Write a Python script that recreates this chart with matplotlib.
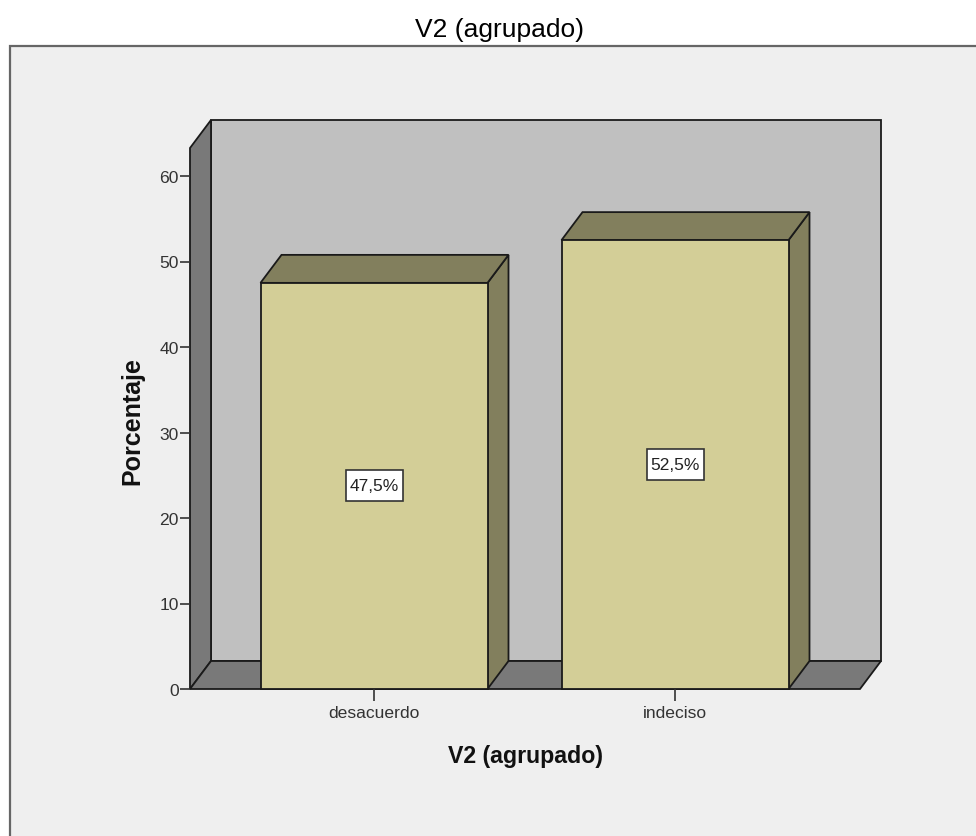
import matplotlib
matplotlib.use('Agg')
import matplotlib.pyplot as plt
from matplotlib.patches import Polygon, Rectangle

plt.rcParams['font.family'] = ['Liberation Sans', 'DejaVu Sans']

categories = ['desacuerdo', 'indeciso']
values = [47.5, 52.5]
value_labels = ['47,5%', '52,5%']
yticks = [0, 10, 20, 30, 40, 50, 60]
title = 'V2 (agrupado)'
xlabel = 'V2 (agrupado)'
ylabel = 'Porcentaje'

W, H = 976, 837
# plot box in pixels of the picture
left, right, base, top = 190, 860, 690, 149
dx_px, dy_px = 21, 28
px_per_unit_x = 301.0
px_per_unit_y = 8.55

PANEL = '#efefef'
WALL = '#c0c0c0'
SIDE = '#797979'
FRONT = '#d3ce97'
DARK = '#827f5d'
EDGE = '#1a1a1a'

fig = plt.figure(figsize=(W / 100, H / 100), dpi=100, facecolor='white')

# panel behind the chart, runs off the right and bottom of the picture
fig.add_artist(Rectangle((10 / W, -0.05), 1.0, 1.05 - 47 / H, transform=fig.transFigure,
                         facecolor=PANEL, edgecolor='#666666', linewidth=1.6, zorder=-1))

ax = fig.add_axes([left / W, 1 - base / H, (right - left) / W, (base - top) / H])
ax.patch.set_visible(False)
x0 = -(374 - left) / px_per_unit_x
x1 = x0 + (right - left) / px_per_unit_x
y1 = (base - top) / px_per_unit_y
ax.set_xlim(x0, x1)
ax.set_ylim(0, y1)

dx = dx_px / px_per_unit_x
dy = dy_px / px_per_unit_y
bar_w = 227 / px_per_unit_x
box_w = 57 / px_per_unit_x
box_h = 31 / px_per_unit_y


def poly(pts, color):
    ax.add_patch(Polygon(pts, closed=True, facecolor=color, edgecolor=EDGE, linewidth=1.3,
                         joinstyle='miter', clip_on=False))


# back wall, side wall, floor
poly([(x0 + dx, dy), (x1 + dx, dy), (x1 + dx, y1 + dy), (x0 + dx, y1 + dy)], WALL)
poly([(x0, 0), (x0 + dx, dy), (x0 + dx, y1 + dy), (x0, y1)], SIDE)
poly([(x0, 0), (x1, 0), (x1 + dx, dy), (x0 + dx, dy)], SIDE)

# bars
for i, v in enumerate(values):
    l = i - bar_w / 2
    r = i + bar_w / 2
    poly([(r, 0), (r + dx, dy), (r + dx, v + dy), (r, v)], DARK)
    poly([(l, v), (r, v), (r + dx, v + dy), (l + dx, v + dy)], DARK)
    poly([(l, 0), (r, 0), (r, v), (l, v)], FRONT)
    ax.add_patch(Rectangle((i - box_w / 2, v / 2 - box_h / 2), box_w, box_h, facecolor='white',
                           edgecolor='#333333', linewidth=1.2))
    ax.text(i, v / 2, value_labels[i], ha='center', va='center', fontsize=12.5, color='#222222')

for s in ['top', 'right', 'left', 'bottom']:
    ax.spines[s].set_visible(False)

ax.set_xticks(range(len(categories)))
ax.set_xticklabels(categories)
ax.set_yticks(yticks)
ax.tick_params(axis='x', length=8.6, width=1.2, color='#333333', labelsize=12.6, labelcolor='#333333', pad=3)
ax.tick_params(axis='y', length=7.2, width=1.2, color='#333333', labelsize=12.6, labelcolor='#333333', pad=1)

fig.text(500 / W, 1 - 30 / H, title, ha='center', va='center', fontsize=19, color='#000000')
fig.text(525 / W, 1 - 757 / H, xlabel, ha='center', va='center', fontsize=16.7, fontweight='bold', color='#111111')
fig.text(132 / W, 1 - 421 / H, ylabel, ha='center', va='center', rotation=90, fontsize=18, fontweight='bold', color='#111111')

fig.savefig('out.png', dpi=100)
